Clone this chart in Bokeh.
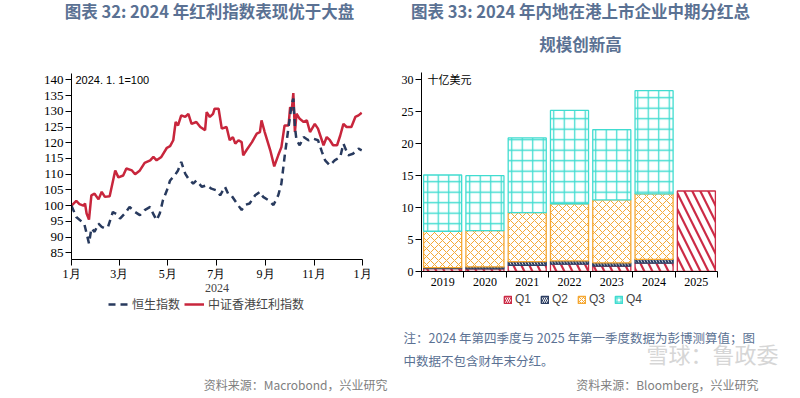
import pandas as pd
from bokeh.plotting import figure
from bokeh.layouts import row, column
from bokeh.models import (FixedTicker, Label, Legend, LegendItem, Range1d,
                          ColumnDataSource)
from bokeh.embed import file_html
from bokeh.resources import INLINE

# ---------------- left chart data ----------------
month_tick_dates = ["2024-01-01", "2024-03-01", "2024-05-01", "2024-07-01",
                    "2024-09-01", "2024-11-01", "2025-01-01"]
month_tick_labels = ["1月", "3月", "5月", "7月", "9月", "11月", "1月"]
left_y_ticks = [85, 90, 95, 100, 105, 110, 115, 120, 125, 130, 135, 140]

dividend_dates = [
    "2024-01-01", "2024-01-07", "2024-01-11", "2024-01-16", "2024-01-18", "2024-01-20",
    "2024-01-23", "2024-01-26", "2024-01-30", "2024-02-04", "2024-02-08", "2024-02-12",
    "2024-02-18", "2024-02-25", "2024-02-29", "2024-03-06", "2024-03-10", "2024-03-17",
    "2024-03-21", "2024-03-27", "2024-04-02", "2024-04-09", "2024-04-13", "2024-04-17",
    "2024-04-23", "2024-04-30", "2024-05-04", "2024-05-08", "2024-05-11", "2024-05-14",
    "2024-05-18", "2024-05-23", "2024-05-27", "2024-05-31", "2024-06-06", "2024-06-11",
    "2024-06-17", "2024-06-19", "2024-06-23", "2024-06-27", "2024-06-29", "2024-07-04",
    "2024-07-08", "2024-07-14", "2024-07-18", "2024-07-22", "2024-07-25", "2024-07-29",
    "2024-08-02", "2024-08-04", "2024-08-08", "2024-08-15", "2024-08-21", "2024-08-25",
    "2024-08-27", "2024-08-31", "2024-09-07", "2024-09-12", "2024-09-17", "2024-09-21",
    "2024-09-25", "2024-09-30", "2024-10-02", "2024-10-04", "2024-10-06", "2024-10-08",
    "2024-10-10", "2024-10-14", "2024-10-19", "2024-10-23", "2024-10-27", "2024-11-02",
    "2024-11-06", "2024-11-13", "2024-11-17", "2024-11-21", "2024-11-25", "2024-11-30",
    "2024-12-04", "2024-12-08", "2024-12-12", "2024-12-16", "2024-12-18", "2024-12-23",
    "2024-12-27", "2024-12-31"]
dividend_values = [
    100.0, 101.5, 100.5, 100.0, 100.7, 97.5,
    95.6, 103.3, 103.8, 102.0, 104.4, 102.8,
    103.0, 111.2, 109.0, 109.6, 111.8, 111.2,
    110.0, 111.2, 113.6, 114.4, 115.5, 114.4,
    115.5, 118.4, 118.9, 120.8, 126.6, 125.5,
    128.7, 128.2, 129.2, 126.0, 126.6, 125.0,
    124.0, 129.7, 128.2, 129.2, 130.8, 130.8,
    124.5, 125.0, 120.8, 121.8, 119.7, 120.8,
    120.2, 116.0, 117.6, 120.2, 122.9, 123.4,
    127.1, 123.4, 117.6, 112.5, 116.0, 118.6,
    125.5, 125.5, 131.3, 130.3, 135.8, 123.4,
    129.2, 127.6, 126.6, 127.1, 123.4, 126.0,
    124.5, 119.2, 121.8, 120.8, 119.2, 119.2,
    122.3, 126.0, 125.0, 125.0, 125.0, 128.2,
    128.7, 129.5]

hsi_dates = [
    "2024-01-01", "2024-01-07", "2024-01-14", "2024-01-17", "2024-01-20", "2024-01-23",
    "2024-01-26", "2024-01-30", "2024-02-04", "2024-02-08", "2024-02-12", "2024-02-16",
    "2024-02-22", "2024-02-27", "2024-03-02", "2024-03-08", "2024-03-14", "2024-03-21",
    "2024-03-27", "2024-04-02", "2024-04-09", "2024-04-13", "2024-04-17", "2024-04-21",
    "2024-04-25", "2024-04-30", "2024-05-04", "2024-05-10", "2024-05-14", "2024-05-18",
    "2024-05-23", "2024-05-27", "2024-06-02", "2024-06-06", "2024-06-13", "2024-06-19",
    "2024-06-25", "2024-07-01", "2024-07-06", "2024-07-12", "2024-07-16", "2024-07-20",
    "2024-07-27", "2024-08-02", "2024-08-06", "2024-08-12", "2024-08-19", "2024-08-25",
    "2024-08-29", "2024-09-05", "2024-09-11", "2024-09-17", "2024-09-21", "2024-09-25",
    "2024-09-30", "2024-10-04", "2024-10-06", "2024-10-08", "2024-10-10", "2024-10-14",
    "2024-10-19", "2024-10-25", "2024-10-31", "2024-11-06", "2024-11-11", "2024-11-15",
    "2024-11-21", "2024-11-27", "2024-12-04", "2024-12-08", "2024-12-14", "2024-12-20",
    "2024-12-27", "2024-12-31"]
hsi_values = [
    100.0, 96.4, 94.9, 94.3, 91.2, 88.0,
    92.8, 91.7, 94.3, 93.3, 92.8, 93.3,
    98.0, 97.3, 95.9, 97.5, 99.6, 98.0,
    97.0, 98.6, 99.6, 97.3, 95.4, 97.5,
    101.7, 104.9, 108.0, 109.7, 111.2, 113.9,
    110.2, 108.6, 107.0, 108.0, 106.0, 106.5,
    105.4, 104.9, 103.3, 106.0, 103.8, 103.3,
    100.7, 98.6, 100.2, 100.7, 103.3, 104.4,
    102.8, 101.7, 100.2, 103.3, 107.0, 115.5,
    125.0, 132.4, 134.0, 125.0, 120.8, 119.2,
    121.8, 120.8, 121.3, 120.8, 117.1, 114.4,
    112.8, 114.4, 115.5, 119.7, 116.0, 116.5,
    118.1, 117.6]

# ---------------- right chart data ----------------
years = ["2019", "2020", "2021", "2022", "2023", "2024", "2025"]
quarters = ["Q1", "Q2", "Q3", "Q4"]
nan = float("nan")
q1 = [0.45, 0.40, 0.95, 1.15, 0.85, 1.30, 12.6]
q2 = [0.15, 0.33, 0.60, 0.50, 0.50, 0.60, nan]
q3 = [5.70, 5.67, 7.65, 8.95, 9.85, 10.25, nan]
q4 = [8.80, 8.60, 11.70, 14.60, 11.00, 16.15, nan]
right_y_ticks = [0, 5, 10, 15, 20, 25, 30]

# ---------------- texts ----------------
title_left = "图表 32: 2024 年红利指数表现优于大盘"
title_right_1 = "图表 33: 2024 年内地在港上市企业中期分红总"
title_right_2 = "规模创新高"
series_names = ["恒生指数", "中证香港红利指数"]
note_1 = "注：2024 年第四季度与 2025 年第一季度数据为彭博测算值；图"
note_2 = "中数据不包含财年末分红。"
source_left = "资料来源：Macrobond，兴业研究"
source_right = "资料来源：Bloomberg，兴业研究"
watermark = "雪球：鲁政委"

# ---------------- styles ----------------
TITLE_COLOR = "#5a7193"
CJK = "Noto Sans CJK SC"
SERIF = "Liberation Serif"
RED = "#c8263c"
NAVY = "#283a5e"
BAR_COLORS = ["#cc2b46", "#2d3f63", "#f5a833", "#40dcd0"]
BAR_PATTERNS = ["\\", "\\", "x", "+"]
BAR_SCALES = [16, 6, 8, 10.5]
BAR_WEIGHTS = [2.2, 2.0, 1.0, 1.3]

start = pd.Timestamp("2024-01-01")


def to_days(ds):
    return [(pd.Timestamp(d) - start).days for d in ds]


def base_axes(p, size):
    p.outline_line_color = None
    p.xgrid.visible = False
    p.ygrid.visible = False
    for ax in (p.xaxis[0], p.yaxis[0]):
        ax.axis_line_color = "black"
        ax.major_tick_line_color = "black"
        ax.major_tick_in = 0
        ax.major_tick_out = 6
        ax.minor_tick_line_color = None
        ax.major_label_text_font = SERIF
        ax.major_label_text_font_size = size
        ax.major_label_text_color = "black"
        ax.major_label_standoff = 2


def text_fig(w, h):
    p = figure(width=w, height=h, x_range=Range1d(0, w), y_range=Range1d(h, 0),
               x_axis_type=None, y_axis_type=None, output_backend="svg",
               toolbar_location=None, min_border=0, title=None,
               frame_align=False)
    p.outline_line_color = None
    p.xgrid.visible = False
    p.ygrid.visible = False
    return p


def add_label(p, x, y, text, size, color="black", font=CJK, align="left",
              style="normal", units="data"):
    p.add_layout(Label(x=x, y=y, x_units=units, y_units=units, text=text,
                       text_font=font, text_font_size=size, text_color=color,
                       text_align=align, text_baseline="middle",
                       text_font_style=style))


# ---------------- top text strip (y 0..60) ----------------
p_top = text_fig(796, 60)
add_label(p_top, 209, 10, title_left, "16.5px", TITLE_COLOR, style="bold", align="center")
add_label(p_top, 580, 10, title_right_1, "16.5px", TITLE_COLOR, style="bold", align="center")
add_label(p_top, 580, 43, title_right_2, "16.5px", TITLE_COLOR, style="bold", align="center")

# ---------------- left figure (y 60..296, x 0..390) ----------------
tick_days = to_days(month_tick_dates)
p1 = figure(width=390, height=236, x_range=Range1d(0, 366),
            y_range=Range1d(82.9, 142), output_backend="svg",
            toolbar_location=None, title=None, frame_align=False,
            min_border_left=71, min_border_right=28,
            min_border_top=13, min_border_bottom=37)
base_axes(p1, "13px")
p1.xaxis.major_label_text_font_size = "12px"
p1.xaxis.major_label_standoff = 1
p1.xaxis.ticker = FixedTicker(ticks=tick_days)
p1.xaxis.major_label_overrides = {d: l for d, l in zip(tick_days, month_tick_labels)}
p1.yaxis.ticker = FixedTicker(ticks=left_y_ticks)
p1.xaxis.axis_label = "2024"
p1.xaxis.axis_label_text_font = SERIF
p1.xaxis.axis_label_text_font_size = "12px"
p1.xaxis.axis_label_text_font_style = "normal"
p1.xaxis.axis_label_standoff = 0

line_styles = [dict(line_color=NAVY, line_width=2.5, line_dash="7 5"),
               dict(line_color=RED, line_width=2.5, line_dash="solid")]
p1.line(to_days(dividend_dates), dividend_values, **line_styles[1])
p1.line(to_days(hsi_dates), hsi_values, **line_styles[0])
add_label(p1, 4, 180, "2024. 1. 1=100", "11px", font="Liberation Sans",
          units="screen")

# left legend strip (y 296..396)
pb1 = text_fig(390, 100)
leg1_items = []
for name, st in zip(series_names, line_styles):
    r = pb1.line(x=[nan, nan], y=[nan, nan], **st)   # legend proxy only
    leg1_items.append(LegendItem(label=name, renderers=[r]))
pb1.add_layout(Legend(items=leg1_items, orientation="horizontal",
                      location=(108, 84), border_line_color=None,
                      background_fill_alpha=0, padding=0, margin=0,
                      spacing=4, label_standoff=4, glyph_width=20,
                      glyph_height=12, label_height=12,
                      label_text_font=CJK, label_text_font_size="12px"))
add_label(pb1, 387, 88, source_left, "12px", "#808080", align="right")

# ---------------- right figure (y 60..291, x 390..796) ----------------
xs = [i + 0.5 for i in range(len(years))]
src = ColumnDataSource(dict(x=xs, Q1=q1, Q2=q2, Q3=q3, Q4=q4))
p2 = figure(width=406, height=231, x_range=Range1d(0, 7),
            y_range=Range1d(0, 31.14), output_backend="svg",
            toolbar_location=None, title=None, frame_align=False,
            min_border_left=31, min_border_right=79,
            min_border_top=12, min_border_bottom=20)
base_axes(p2, "12px")
p2.xaxis.ticker = FixedTicker(ticks=xs, minor_ticks=list(range(len(years) + 1)))
p2.xaxis.major_label_overrides = {x: y for x, y in zip(xs, years)}
p2.xaxis.major_tick_line_color = None
p2.xaxis.minor_tick_line_color = "black"
p2.xaxis.minor_tick_in = 0
p2.xaxis.minor_tick_out = 6
p2.xaxis.major_label_standoff = 0
p2.yaxis.ticker = FixedTicker(ticks=right_y_ticks)

p2.vbar_stack(quarters, x="x", width=0.9, source=src,
              fill_color="white", line_color=BAR_COLORS, line_width=1.3,
              hatch_color=BAR_COLORS, hatch_pattern=BAR_PATTERNS,
              hatch_scale=BAR_SCALES, hatch_weight=BAR_WEIGHTS)
add_label(p2, 6, 193, "十亿美元", "11px", units="screen")

# right legend / notes strip (y 291..396)
pb2 = text_fig(406, 105)
leg2_items = []
for q, c, pat in zip(quarters, BAR_COLORS, BAR_PATTERNS):
    r = pb2.vbar(x=[nan], top=[nan], width=1, fill_color="white", line_color=c,
                 line_width=1.5, hatch_color=c, hatch_pattern=pat,
                 hatch_scale=4, hatch_weight=1)   # legend proxy only
    leg2_items.append(LegendItem(label=q, renderers=[r]))
pb2.add_layout(Legend(items=leg2_items, orientation="horizontal",
                      location=(113, 90), border_line_color=None,
                      background_fill_alpha=0, padding=0, margin=0,
                      spacing=5, label_standoff=3, glyph_width=9,
                      glyph_height=9, label_height=12,
                      label_text_font="Liberation Sans",
                      label_text_font_size="12px"))
add_label(pb2, 13, 46, note_1, "12.5px", TITLE_COLOR)
add_label(pb2, 13, 69, note_2, "12.5px", TITLE_COLOR)
add_label(pb2, 256, 61, watermark, "22px", "#d6d6d6")
add_label(pb2, 368, 93, source_right, "12px", "#808080", align="right")

layout = column(p_top, row(column(p1, pb1), column(p2, pb2)))
open("out.html", "w").write(file_html(layout, INLINE))
